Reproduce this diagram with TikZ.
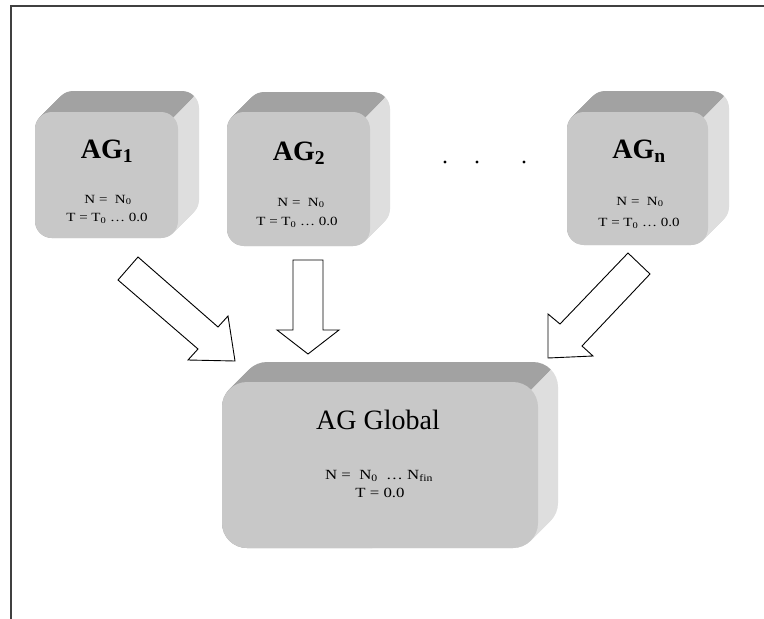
\documentclass[tikz,border=0pt]{standalone}
\usepackage{fontspec}
\setmainfont{Liberation Serif}
\newfontfamily\smallserif[FakeStretch=1.2]{Liberation Serif}
\definecolor{frontgray}{HTML}{C8C8C8}
\definecolor{topgray}{HTML}{A2A2A2}
\definecolor{sidegray}{HTML}{DEDEDE}
\tikzset{
  frontface/.style={fill=frontgray, draw=none, inner sep=0pt},
  bigtitle/.style={font=\bfseries\fontsize{28}{30}\selectfont, inner sep=0pt},
  gtitle/.style={font=\fontsize{28}{30}\selectfont, inner sep=0pt},
  smalltxt/.style={font=\smallserif\fontsize{12.5}{14}\selectfont, inner sep=0pt},
  gsmalltxt/.style={font=\smallserif\fontsize{14}{16}\selectfont, inner sep=0pt},
  blockarrow/.style={fill=white, draw=black, line width=0.9pt, line join=miter},
  framestyle/.style={draw=black!75, line width=1.3pt},
}
% #1 x1, #2 y1, #3 x2, #4 y2, #5 depth, #6 radius, #7 node name
\newcommand\agbox[7]{%
  \pgfmathsetmacro\splitc{#3+#2}%
  \begin{scope}
    \clip (-1000,\splitc+1000) -- (\splitc+1000,-1000) -- (3000,3000) -- cycle;
    \foreach \k in {0,1,...,#5}
      \fill[sidegray, rounded corners=#6pt] (#1+\k,#2-\k) rectangle (#3+\k,#4-\k);
  \end{scope}
  \begin{scope}
    \clip (-1000,\splitc+1000) -- (\splitc+1000,-1000) -- (-1000,-1000) -- cycle;
    \foreach \k in {0,1,...,#5}
      \fill[topgray, rounded corners=#6pt] (#1+\k,#2-\k) rectangle (#3+\k,#4-\k);
  \end{scope}
  \pgfmathsetmacro\bw{#3-#1}%
  \pgfmathsetmacro\bh{#4-#2}%
  \node[frontface, rounded corners=#6pt, minimum width=\bw pt, minimum height=\bh pt]
    (#7) at ({(#1+#3)/2},{(#2+#4)/2}) {};
}
\begin{document}
\begin{tikzpicture}[x=1pt,y=-1pt]
\useasboundingbox (0,0) rectangle (764,619);
\fill[white] (0,0) rectangle (764,619);

% frame
\coordinate (fbl) at (11,619);
\coordinate (ftl) at (11,6);
\coordinate (ftr) at (764,6);
\draw[framestyle] (fbl) -- (ftl) -- (ftr);

% boxes
\agbox{35}{112}{178}{238}{21}{17}{ag1}
\agbox{227}{112}{370}{246}{20}{17}{ag2}
\agbox{567}{112}{708}{245}{21}{17}{agn}
\agbox{222}{382}{538}{548}{20}{25}{agg}

% texts
\node[bigtitle] (t1) at (107,151) {AG\textsubscript{1}};
\node[smalltxt] (n1) at (108,200) {N =\ \ N\textsubscript{0}};
\node[smalltxt] (m1) at (107,218) {T = T\textsubscript{0} … 0.0};

\node[bigtitle] (t2) at (299,153) {AG\textsubscript{2}};
\node[smalltxt] (n2) at (301,203) {N =\ \ N\textsubscript{0}};
\node[smalltxt] (m2) at (297,222) {T = T\textsubscript{0} … 0.0};

\node[bigtitle] (tn) at (639,151) {AG\textsubscript{n}};
\node[smalltxt] (nn) at (640,202) {N =\ \ N\textsubscript{0}};
\node[smalltxt] (mn) at (639,223) {T = T\textsubscript{0} … 0.0};

\node[gtitle] (tg) at (378,420) {AG Global};
\node[gsmalltxt] (ng) at (379,476) {N =\ \ N\textsubscript{0}\ \ … N\textsubscript{fin}};
\node[gsmalltxt] (mg) at (380,493) {T = 0.0};

% dots
\fill (445,162) circle (1.7);
\fill (477,162) circle (1.7);
\fill (524,162) circle (1.7);

% block arrows
\draw[blockarrow] (138,257) -- (218,327) -- (228,316) -- (235,361) -- (188,360) -- (198,349) -- (118,280) -- cycle;
\draw[blockarrow] (293,260) -- (323,260) -- (323,330) -- (339,330) -- (308,354) -- (277,330) -- (293,330) -- cycle;
\draw[blockarrow] (628,253) -- (650,274) -- (582,346) -- (593,356) -- (548,358) -- (548,314) -- (560,324) -- cycle;
\end{tikzpicture}
\end{document}
